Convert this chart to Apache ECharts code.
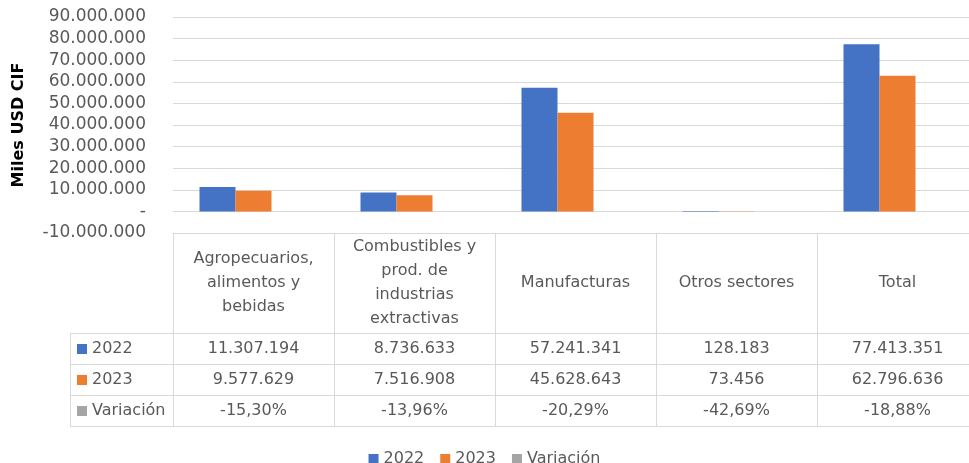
<!DOCTYPE html>
<html>
<head>
<meta charset="utf-8">
<script src="https://cdn.jsdelivr.net/npm/echarts@6/dist/echarts.min.js"></script>
<style>
html,body{margin:0;padding:0;background:#fff}
#main{width:969px;height:463px}
</style>
</head>
<body>
<div id="main"></div>
<script>
// datos
var categories = ['Agropecuarios,\nalimentos y\nbebidas', 'Combustibles y\nprod. de\nindustrias\nextractivas', 'Manufacturas', 'Otros sectores', 'Total'];
var seriesNames = ['2022', '2023', 'Variación'];
var v2022 = [11307194, 8736633, 57241341, 128183, 77413351];
var v2023 = [9577629, 7516908, 45628643, 73456, 62796636];
var variacion = [-0.1530, -0.1396, -0.2029, -0.4269, -0.1888];
var yMin = -10000000, yMax = 90000000, yStep = 10000000;

var colors = ['#4472c4', '#ed7d31', '#a5a5a5'];
var font = 'DejaVu Sans';
var txtColor = '#595959';
var lineColor = '#d9d9d9';

function fmtNum(v) {
    var s = Math.abs(Math.round(v)).toString().replace(/\B(?=(\d{3})+(?!\d))/g, '.');
    return (v < 0 ? '-' : '') + s;
}
function fmtPct(v) {
    return (v * 100).toFixed(2).replace('.', ',') + '%';
}

var myChart = echarts.init(document.getElementById('main'));

var option = {
    animation: false,
    color: colors,
    grid: { left: 173, width: 805, top: 17, height: 216, outerBoundsMode: 'none' },
    legend: {
        data: seriesNames,
        top: 446,
        left: 'center',
        icon: 'rect',
        itemWidth: 10,
        itemHeight: 10,
        itemGap: 16,
        textStyle: { fontFamily: font, fontSize: 16, color: txtColor }
    },
    xAxis: {
        type: 'category',
        data: categories,
        axisLine: { show: false },
        axisTick: { show: false },
        axisLabel: { show: false }
    },
    yAxis: {
        type: 'value',
        min: yMin,
        max: yMax,
        interval: yStep,
        name: 'Miles USD CIF',
        nameLocation: 'middle',
        nameGap: 146,
        nameTextStyle: { fontFamily: font, fontSize: 16, fontWeight: 'bold', color: '#000' },
        axisLine: { show: false },
        axisTick: { show: false },
        splitLine: { lineStyle: { color: lineColor, width: 1 } },
        axisLabel: {
            margin: 27,
            fontFamily: font,
            fontSize: 17,
            color: txtColor,
            formatter: function (v) { return v === 0 ? '-' : fmtNum(v); }
        }
    },
    series: [
        { name: seriesNames[0], type: 'bar', data: v2022, barWidth: 36, barGap: '0%' },
        { name: seriesNames[1], type: 'bar', data: v2023, barWidth: 36, barGap: '0%' },
        { name: seriesNames[2], type: 'bar', data: variacion, barWidth: 36, barGap: '0%' }
    ]
};

myChart.setOption(option);

// tabla de datos debajo del grafico
var c0 = myChart.convertToPixel({ xAxisIndex: 0 }, 0);
var c1 = myChart.convertToPixel({ xAxisIndex: 0 }, 1);
var band = c1 - c0;
var xLeft = c0 - band / 2;
var xRight = xLeft + band * categories.length;
var yTop = myChart.convertToPixel({ yAxisIndex: 0 }, yMin);
var rowH = 31;
var headH = 100;
var labelLeft = 70;
var rowsY = [yTop + headH, yTop + headH + rowH, yTop + headH + rowH * 2, yTop + headH + rowH * 3];

var g = [];
function hline(x1, x2, y) {
    g.push({ type: 'line', shape: { x1: x1, y1: Math.round(y) + 0.5, x2: x2, y2: Math.round(y) + 0.5 }, style: { stroke: lineColor, lineWidth: 1 }, silent: true });
}
function vline(x, y1, y2) {
    g.push({ type: 'line', shape: { x1: Math.round(x) + 0.5, y1: y1, x2: Math.round(x) + 0.5, y2: y2 }, style: { stroke: lineColor, lineWidth: 1 }, silent: true });
}
function text(x, y, s, align) {
    g.push({
        type: 'text', x: x, y: y, silent: true,
        style: { text: s, fill: txtColor, font: '16px "' + font + '"', align: align || 'center', verticalAlign: 'middle', lineHeight: 24 }
    });
}

hline(xLeft, xRight, yTop);
rowsY.forEach(function (y) { hline(labelLeft, xRight, y); });
vline(labelLeft, rowsY[0], rowsY[3]);
for (var i = 0; i <= categories.length; i++) {
    vline(xLeft + band * i, yTop, rowsY[3]);
}
categories.forEach(function (c, i) {
    var cx = myChart.convertToPixel({ xAxisIndex: 0 }, i);
    text(cx, yTop + headH / 2, c);
    text(cx, rowsY[0] + rowH / 2, fmtNum(v2022[i]));
    text(cx, rowsY[1] + rowH / 2, fmtNum(v2023[i]));
    text(cx, rowsY[2] + rowH / 2, fmtPct(variacion[i]));
});
seriesNames.forEach(function (n, i) {
    var yc = rowsY[i] + rowH / 2;
    g.push({ type: 'rect', shape: { x: 77, y: Math.round(yc) - 5, width: 10, height: 10 }, style: { fill: colors[i] }, silent: true });
    text(92, yc, n, 'left');
});

myChart.setOption({ graphic: g });
window.onresize = myChart.resize;
</script>
</body>
</html>
